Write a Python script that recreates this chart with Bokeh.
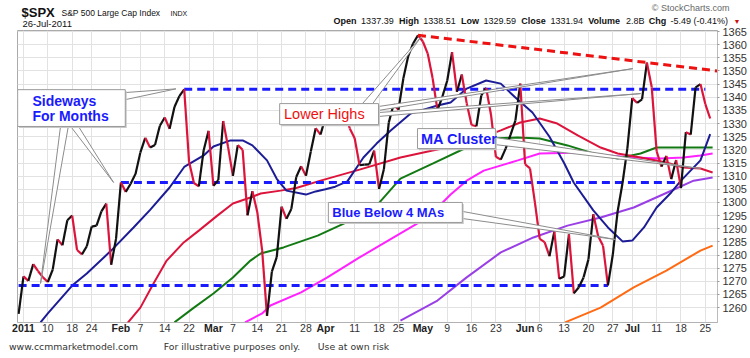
import pandas as pd
from bokeh.plotting import figure
from bokeh.layouts import column
from bokeh.models import FixedTicker, Range1d, ColumnDataSource, LinearAxis
from bokeh.core.properties import value
from bokeh.embed import file_html
from bokeh.resources import INLINE

# ---------------- data ----------------
holidays = ["2011-01-17", "2011-02-21", "2011-04-22", "2011-05-30", "2011-07-04"]
dates = [d.strftime("%Y-%m-%d") for d in pd.bdate_range("2010-12-31", "2011-07-26")
         if d.strftime("%Y-%m-%d") not in holidays]
# trading-day number: 2011-01-03 = 0
day = {d: i - 1 for i, d in enumerate(dates)}

closes = [1257.64,
    1271.87, 1270.20, 1276.56, 1273.85, 1271.50, 1269.75, 1274.48, 1285.96, 1283.76, 1293.24,
    1295.02, 1281.92, 1280.26, 1283.35, 1290.84, 1291.18, 1296.63, 1299.54, 1276.34, 1286.12,
    1307.59, 1304.03, 1307.10, 1310.87, 1319.05, 1324.57, 1320.88, 1321.87, 1329.15, 1332.32,
    1328.01, 1336.32, 1340.43, 1343.01, 1315.44, 1307.40, 1306.10, 1319.88, 1327.22,
    1306.33, 1308.44, 1330.97, 1321.15, 1310.13, 1321.82, 1320.02, 1295.11, 1304.28, 1296.39,
    1281.87, 1256.88, 1273.72, 1279.20, 1298.38, 1293.77, 1297.54, 1309.66, 1313.80, 1310.19,
    1319.44, 1328.26, 1325.83,
    1332.41, 1332.87, 1332.63, 1335.54, 1333.51, 1328.17, 1324.46, 1314.16, 1314.41, 1314.52,
    1319.68, 1305.14, 1312.62, 1330.36, 1337.38, 1335.25, 1347.24, 1355.66, 1360.48, 1363.61,
    1361.22, 1356.62, 1347.32, 1335.10, 1340.20, 1346.29, 1357.16, 1342.08, 1348.65, 1337.77,
    1329.47, 1328.98, 1340.68, 1343.60, 1333.27, 1317.37, 1316.28, 1320.47, 1325.69, 1331.10,
    1345.20,
    1314.55, 1312.94, 1300.16, 1286.17, 1284.94, 1279.56, 1289.00, 1270.98, 1271.83, 1287.87,
    1265.42, 1267.64, 1271.50, 1278.36, 1295.52, 1287.14, 1283.50, 1268.45, 1280.10, 1296.67,
    1307.41, 1320.64,
    1339.67, 1337.88, 1339.22, 1353.22, 1343.80, 1319.49, 1313.64, 1317.72, 1308.87, 1316.14,
    1305.44, 1326.73, 1325.84, 1343.80, 1345.02, 1337.43, 1331.94]

# moving averages (trading-day number, value)
ma_blue_x = [3.5, 5, 10, 13, 18, 22.6, 26, 30, 33, 37, 39, 42.5, 45, 47, 50, 52, 54, 58, 60, 62, 64,
             66.5, 69.8, 72.5, 75.4, 79.5, 85, 87.7, 91, 95, 98, 101, 104.5, 108, 111, 113, 117,
             120, 123, 125, 127.4, 130, 133, 135, 139, 141]
ma_blue_y = [1254.4, 1257.8, 1268.4, 1273.0, 1281.7, 1290.5, 1297.2, 1305.7, 1313.5, 1317.9, 1321.3,
             1323.6, 1323.6, 1321.7, 1316.0, 1309.0, 1304.5, 1303.0, 1304.2, 1305.0, 1306.0,
             1308.0, 1317.1, 1322.4, 1327.4, 1333.8, 1336.9, 1338.0, 1343.3, 1346.4, 1345.2,
             1339.9, 1334.2, 1325.0, 1315.0, 1307.5, 1297.0, 1290.5, 1285.2, 1285.5, 1290.5,
             1298.1, 1303.8, 1308.3, 1316.0, 1326.0]

ma_red_x = [21.3, 24, 26.7, 29.4, 32.9, 36, 39.8, 43, 46.6, 48.7, 52.8, 56, 61, 69, 77.4, 84, 91,
            98, 102, 106, 109.6, 113.8, 118.5, 122, 126.7, 132, 135.5, 139, 141.5]
ma_red_y = [1254.0, 1260.0, 1269.2, 1277.9, 1284.8, 1289.3, 1295.0, 1299.6, 1301.9, 1303.4, 1304.5,
            1305.5, 1308.3, 1312.5, 1317.1, 1319.8, 1322.4, 1327.4, 1330.4, 1331.9, 1330.0,
            1325.5, 1320.9, 1318.6, 1317.1, 1315.2, 1313.3, 1312.9, 1311.4]

ma_green_x = [31, 35, 39, 43, 46.6, 48.7, 53.4, 60.4, 67.1, 72.6, 77.4, 84, 91, 96.5, 101.4, 106,
              111.7, 117, 122, 126.7, 130, 135, 141.5]
ma_green_y = [1254.4, 1260.0, 1265.4, 1271.5, 1277.9, 1280.6, 1282.9, 1287.4, 1293.1, 1299.0,
              1309.1, 1314.8, 1320.9, 1324.3, 1324.7, 1324.3, 1321.7, 1318.6, 1316.7, 1318.6,
              1320.9, 1320.9, 1320.9]

ma_magenta_x = [45.5, 49, 50.7, 57, 62.4, 69, 76, 83, 87.7, 91, 94.5, 101.5, 106, 115, 120, 125.3,
                130.8, 135.5, 139, 141.5]
ma_magenta_y = [1254.4, 1257.8, 1260.8, 1265.8, 1271.5, 1279.1, 1286.7, 1294.3, 1303.0, 1308.3,
                1312.1, 1316.0, 1318.6, 1319.0, 1317.9, 1317.1, 1316.7, 1317.1, 1317.9, 1318.6]

ma_purple_x = [77.4, 85, 91, 98, 104.7, 111.7, 118.5, 125.3, 132.2, 137.6, 141.5]
ma_purple_y = [1255.1, 1262.7, 1271.5, 1281.0, 1286.7, 1291.2, 1294.3, 1298.1, 1303.8, 1308.3, 1309.5]

ma_orange_x = [111.2, 118.5, 125.3, 132, 139, 141.5]
ma_orange_y = [1254.4, 1260.0, 1267.7, 1274.1, 1281.7, 1283.6]

# support / resistance levels (level, from date, to date)
levels = [1343.01, 1307.59, 1268.45]
level_from = ["2011-02-18", "2011-02-01", "2010-12-31"]
level_to = ["2011-07-25", "2011-07-18", "2011-06-24"]
# lower-highs trend line through two peaks
peak_dates = ["2011-04-29", "2011-07-07"]

tick_dates = ["2011-01-03", "2011-01-10", "2011-01-18", "2011-01-24", "2011-02-01", "2011-02-07",
              "2011-02-14", "2011-02-22", "2011-03-01", "2011-03-07", "2011-03-14", "2011-03-21",
              "2011-03-28", "2011-04-01", "2011-04-11", "2011-04-18", "2011-04-25", "2011-05-02",
              "2011-05-09", "2011-05-16", "2011-05-23", "2011-06-01", "2011-06-06", "2011-06-13",
              "2011-06-20", "2011-06-27", "2011-07-01", "2011-07-11", "2011-07-18", "2011-07-25"]
tick_labels = ["2011", "10", "18", "24", "Feb", "7", "14", "22", "Mar", "7", "14", "21", "28",
               "Apr", "11", "18", "25", "May", "9", "16", "23", "Jun", "6", "13", "20", "27",
               "Jul", "11", "18", "25"]
y_ticks = list(range(1260, 1366, 5))

quote_keys = ["Open", "High", "Low", "Close", "Volume", "Chg"]
quote_vals = ["1337.39", "1338.51", "1329.59", "1331.94", "2.8B", "-5.49 (-0.41%)"]
chart_date = "26-Jul-2011"
footer_texts = ["www.ccmmarketmodel.com", "For illustrative purposes only.", "Use at own risk"]

FONT = "Liberation Sans"

# approximate advance widths (em/1000) used to lay out the quote row
W_REG = {**{c: 556 for c in "0123456789"}, ".": 278, " ": 278, "-": 333, "(": 333, ")": 333,
         "%": 889, "B": 667}
W_BOLD = {"O": 778, "p": 611, "e": 556, "n": 611, "H": 722, "i": 278, "g": 611, "h": 611,
          "L": 611, "o": 611, "w": 778, "C": 722, "l": 278, "s": 556, "V": 667, "u": 611,
          "m": 889}

def tw(s, size, bold):
    table = W_BOLD if bold else W_REG
    return 1.07 * sum(table.get(c, 556) for c in s) * size / 1000.0

def htxt(fig, x, y, s, size, bold=False, color="#111111", align="left", font=FONT):
    fig.text([x], [y], text=[s], text_font=value(font), text_font_size=size,
             text_font_style="bold" if bold else "normal", text_color=color,
             text_align=align, text_baseline="middle")

# ---------------- header strip ----------------
H_HEAD = 27
head = figure(width=750, height=H_HEAD, frame_width=750, frame_height=H_HEAD, output_backend="svg",
              toolbar_location=None, x_range=Range1d(0, 750), y_range=Range1d(H_HEAD, 0),
              x_axis_type=None, y_axis_type=None, min_border=0)
head.outline_line_color = None
head.grid.visible = False
htxt(head, 4, 12, "$SPX", "13px", True)
htxt(head, 44, 12.5, "S&P 500 Large Cap Index", "8.5px")
htxt(head, 153, 12.5, "INDX", "7px")
htxt(head, 5, 22.5, chart_date, "9.5px")
htxt(head, 712, 7, "\u00a9 StockCharts.com", "9px", False, "#666666", "right")

QS = 9.0
GAP = 3.0
cx = 316.0
for k, v in zip(quote_keys, quote_vals):
    htxt(head, cx, 20.5, k, f"{QS}px", True)
    cx += tw(k, QS, True) + GAP
    htxt(head, cx, 20.5, v, f"{QS}px", False)
    cx += tw(v, QS, False) + GAP
htxt(head, cx + 2, 20.5, "\u25bc", "7px", False, "#cc1111", "center")

# ---------------- main chart ----------------
X0, X1 = -1.23, 142.5
Y0, Y1 = 1254.35, 1365.4
FRAME_L, FRAME_W = 17, 700
p = figure(width=750, height=358 - H_HEAD, output_backend="svg", toolbar_location=None,
           x_range=Range1d(X0, X1), y_range=Range1d(Y0, Y1), y_axis_location="right",
           min_border_left=FRAME_L, min_border_right=33, min_border_top=3, min_border_bottom=36)
p.outline_line_color = "#aaaaaa"
p.background_fill_color = "white"
p.border_fill_color = "white"

tick_x = [day[d] for d in tick_dates]
is_month = [not l.isdigit() or l == "2011" for l in tick_labels]
ax = p.xaxis[0]
ax.ticker = FixedTicker(ticks=tick_x)
ax.major_label_overrides = {x: ("" if m else l) for x, l, m in zip(tick_x, tick_labels, is_month)}
ax.major_label_text_font = FONT
ax.major_label_text_font_size = "10.5px"
ax.major_label_text_color = "#333333"
ax.major_label_standoff = 1
ax.major_tick_out = 0
ax.major_tick_in = 0
ax.axis_line_color = "#bbbbbb"
ax.axis_line_dash = "1 1"

mx = [x for x, m in zip(tick_x, is_month) if m]
ax2 = LinearAxis(ticker=FixedTicker(ticks=mx),
                 major_label_overrides={x: l for x, l, m in zip(tick_x, tick_labels, is_month) if m},
                 major_label_text_font=FONT, major_label_text_font_size="10.5px",
                 major_label_text_font_style="bold", major_label_text_color="#222222",
                 major_label_standoff=-13, major_tick_out=0, major_tick_in=0,
                 axis_line_color=None, major_tick_line_color=None, minor_tick_line_color=None)
p.add_layout(ax2, "below")

# footer line: centred under given page x positions
def page_to_x(px):
    return X0 + (px - FRAME_L) * (X1 - X0) / FRAME_W

foot_centres = [page_to_x(c) for c in (73, 231.5, 353)]
ax3 = LinearAxis(ticker=FixedTicker(ticks=foot_centres),
                 major_label_overrides={c: s for c, s in zip(foot_centres, footer_texts)},
                 major_label_text_font="DejaVu Sans", major_label_text_font_size="9.3px",
                 major_label_text_color="#333333",
                 major_label_standoff=4, major_tick_out=0, major_tick_in=0,
                 axis_line_color=None, major_tick_line_color=None, minor_tick_line_color=None)
p.add_layout(ax3, "below")

p.yaxis.ticker = FixedTicker(ticks=y_ticks)
p.yaxis.major_label_text_font = FONT
p.yaxis.major_label_text_font_size = "11px"
p.yaxis.major_label_text_color = "#333333"
p.yaxis.major_label_standoff = 3
p.yaxis.major_tick_out = 2
p.yaxis.major_tick_in = 0
p.yaxis.major_tick_line_color = "#999999"
p.yaxis.axis_line_color = "#bbbbbb"

p.xgrid.ticker = FixedTicker(ticks=tick_x)
p.ygrid.ticker = FixedTicker(ticks=y_ticks)
p.xgrid.grid_line_color = "#e2e2e2"
p.ygrid.grid_line_color = "#e2e2e2"

# moving averages
for xs, ys, c in [(ma_orange_x, ma_orange_y, "#ff6a13"),
                  (ma_purple_x, ma_purple_y, "#9a3fe6"),
                  (ma_magenta_x, ma_magenta_y, "#ff22ff"),
                  (ma_green_x, ma_green_y, "#137a13"),
                  (ma_red_x, ma_red_y, "#dc143c"),
                  (ma_blue_x, ma_blue_y, "#1c1c96")]:
    p.line(xs, ys, line_color=c, line_width=2)

# levels
for lv, a, b in zip(levels, level_from, level_to):
    p.line([day[a], day[b]], [lv, lv], line_color="#1a1aff", line_width=3, line_dash="8 5")

# price line, black on up days, red on down days
xs = [day[d] for d in dates]
seg = ColumnDataSource(dict(
    x0=xs[:-1], x1=xs[1:], y0=closes[:-1], y1=closes[1:],
    c=["#111111" if closes[i + 1] >= closes[i] else "#dc143c" for i in range(len(closes) - 1)]))
p.segment("x0", "y0", "x1", "y1", source=seg, line_color="c", line_width=2.2)

# lower highs trend line
pa, pb = day[peak_dates[0]], day[peak_dates[1]]
va, vb = closes[pa + 1], closes[pb + 1]
slope = (vb - va) / (pb - pa)
p.line([pa, X1], [va, va + slope * (X1 - pa)], line_color="#ee1111", line_width=3, line_dash="8 5")

# ---------------- callouts ----------------
def pointer(base1, base2, tip):
    p.patch([base1[0], tip[0], base2[0]], [base1[1], tip[1], base2[1]],
            fill_color="white", line_color="#8c8c8c", line_width=1)

def box(l, r, t, b):
    p.quad(left=l + 0.3, right=r + 0.3, top=t - 0.6, bottom=b - 0.6, fill_color="#c8c8c8", line_color=None)
    p.quad(left=l, right=r, top=t, bottom=b, fill_color="white", line_color="#9a9a9a", line_width=1)

def txt(x, y, s, color, size, style):
    p.text([x], [y], text=[s], text_color=color, text_font=value(FONT), text_font_size=size,
           text_font_style=style, text_baseline="middle", text_align="left")

pointer((20.9, 1341.8), (20.9, 1339.1), (31.3, 1343.2))
pointer((7.6, 1328.9), (9.2, 1328.9), (3.5, 1269.2))
pointer((9.7, 1328.9), (11.3, 1328.9), (18.5, 1307.6))
box(-1.2, 20.9, 1342.9, 1328.9)
txt(1.85, 1338.4, "Sideways", "#1a1aff", "14px", "bold")
txt(1.85, 1332.7, "For Months", "#1a1aff", "14px", "bold")

pointer((69.6, 1337.6), (71.7, 1337.6), (81.7, 1363.1))
pointer((72.9, 1336.5), (72.9, 1335.0), (125.1, 1350.9))
pointer((72.9, 1334.2), (72.9, 1332.7), (126.7, 1341.4))
box(52.6, 72.9, 1337.6, 1329.6)
txt(53.5, 1333.6, "Lower Highs", "#ee1111", "14.5px", "normal")

pointer((96.9, 1324.7), (96.9, 1322.0), (139.0, 1312.9))
box(80.9, 96.9, 1328.1, 1320.5)
txt(81.6, 1324.3, "MA Cluster", "#1a1aff", "14.5px", "bold")

pointer((90.1, 1296.6), (90.1, 1293.9), (121.6, 1285.9))
box(62.6, 90.1, 1300.0, 1292.4)
txt(63.4, 1296.2, "Blue Below 4 MAs", "#1a1aff", "13px", "bold")

layout = column(head, p, spacing=0)
open("out.html", "w").write(file_html(layout, INLINE))
